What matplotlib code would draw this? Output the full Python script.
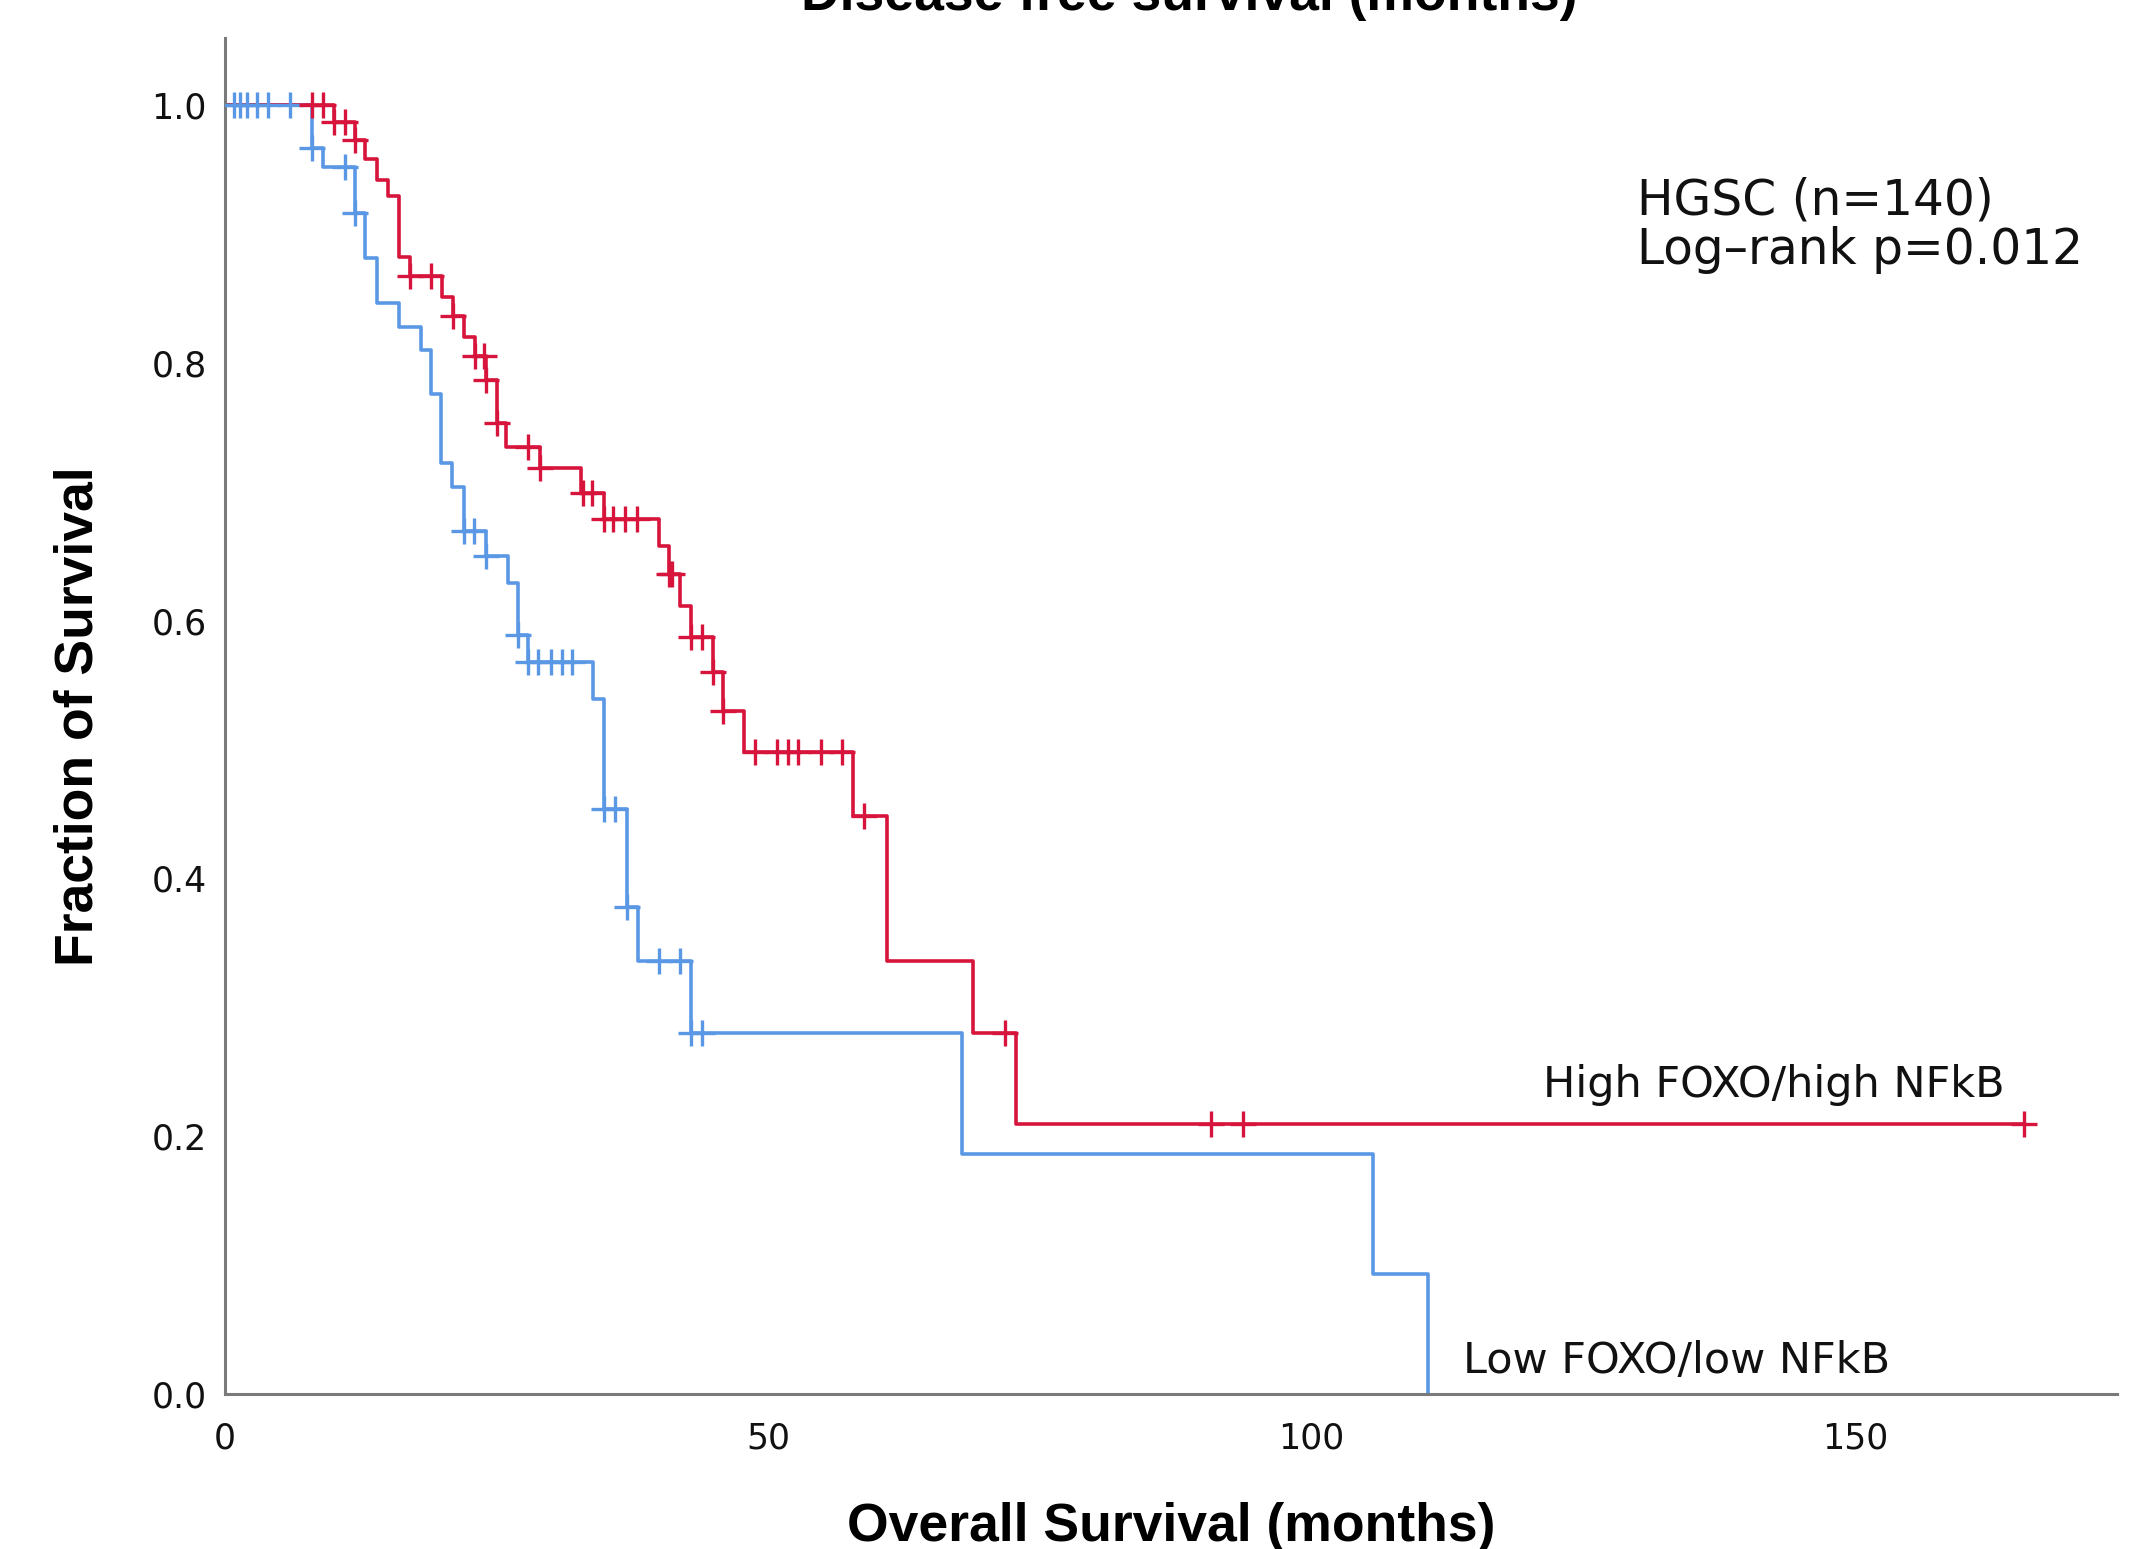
"""Kaplan-Meier style plot: disease free survival by FOXO/NFkB group (HGSC cohort)."""

import matplotlib

matplotlib.use("Agg")
import matplotlib.pyplot as plt
import numpy as np

# High FOXO / high NFkB group: event times (months) and survival after each event
HIGH_EVENT_TIMES = [10.0, 12.0, 12.9, 13.95, 15.0, 16.0, 17.0, 20.0, 21.0, 22.0,
                    23.0, 24.0, 25.0, 25.9, 29.0, 32.8, 34.9, 39.9, 40.9, 41.9,
                    42.9, 44.9, 45.8, 47.8, 57.8, 60.9, 68.8, 72.8]
HIGH_SURVIVAL = [0.987, 0.973, 0.958, 0.942, 0.929, 0.882, 0.867, 0.851, 0.836, 0.820,
                 0.805, 0.787, 0.753, 0.735, 0.718, 0.699, 0.679, 0.658, 0.636, 0.611,
                 0.5875, 0.560, 0.530, 0.498, 0.448, 0.336, 0.280, 0.2095]
HIGH_CENSORED = [8.0, 9.0, 10.0, 11.0, 12.0, 17.0, 19.0, 21.0, 23.0, 23.8, 24.0, 25.0,
                 27.9, 29.0, 32.9, 33.8, 34.9, 35.7, 36.8, 37.9, 40.9, 41.1, 42.9, 43.9,
                 44.9, 45.8, 48.8, 50.8, 51.8, 52.7, 54.8, 56.8, 58.8, 71.8, 90.7, 93.7,
                 165.5]

# Low FOXO / low NFkB group
LOW_EVENT_TIMES = [8.0, 9.05, 12.0, 12.9, 13.95, 16.0, 18.0, 18.95, 19.85, 20.9,
                   22.0, 24.0, 26.0, 26.95, 27.9, 33.9, 34.9, 36.95, 38.0, 42.9,
                   67.8, 105.6, 110.7]
LOW_SURVIVAL = [0.967, 0.952, 0.916, 0.881, 0.846, 0.828, 0.810, 0.776, 0.722, 0.704,
                0.6695, 0.650, 0.629, 0.589, 0.568, 0.539, 0.454, 0.378, 0.336, 0.280,
                0.186, 0.093, 0.0]
LOW_CENSORED = [0.8, 1.4, 2.0, 2.9, 4.0, 6.0, 8.0, 11.0, 12.0, 22.0, 22.9, 24.0, 27.0,
                27.9, 28.8, 30.0, 31.0, 31.9, 34.9, 35.9, 37.0, 39.9, 41.9, 42.9, 43.9]

X_TICKS = [0, 50, 100, 150]
Y_TICKS = [0.0, 0.2, 0.4, 0.6, 0.8, 1.0]

COLOR_HIGH = "#d7143c"
COLOR_LOW = "#5a98e6"
COLOR_SPINE = "#7a7a7a"

LABEL_FONT = ["Liberation Sans", "DejaVu Sans"]
TEXT_FONT = ["DejaVu Sans"]


def plot_curve(ax, event_times, survival, censored, color, end_time=None):
    times = np.array([0.0] + list(event_times))
    surv = np.array([1.0] + list(survival))
    if end_time is not None:
        times = np.append(times, end_time)
        surv = np.append(surv, surv[-1])
    ax.step(times, surv, where="post", color=color, linewidth=2.6, zorder=2)

    ev = np.array(event_times)
    full = np.array([1.0] + list(survival))
    cens = np.array(censored)
    cens_y = full[np.searchsorted(ev, cens, side="right")]
    ax.plot(cens, cens_y, linestyle="none", marker="+", markersize=19,
            markeredgewidth=2.4, color=color, zorder=3)


def main() -> None:
    fig = plt.figure(figsize=(21.39, 15.49), dpi=100)
    fig.patch.set_facecolor("white")
    ax = fig.add_axes([0.1052, 0.1001, 0.8845, 0.8754])

    plot_curve(ax, LOW_EVENT_TIMES, LOW_SURVIVAL, LOW_CENSORED, COLOR_LOW)
    plot_curve(ax, HIGH_EVENT_TIMES, HIGH_SURVIVAL, HIGH_CENSORED, COLOR_HIGH,
               end_time=max(HIGH_CENSORED))

    ax.set_xlim(0, 174.1)
    ax.set_ylim(0, 1.052)
    ax.set_xticks(X_TICKS)
    ax.set_yticks(Y_TICKS)
    ax.set_xticklabels([str(t) for t in X_TICKS])
    ax.set_yticklabels([f"{t:.1f}" for t in Y_TICKS])
    ax.tick_params(axis="both", length=0, labelsize=25, colors="#111111")
    ax.tick_params(axis="x", pad=19.5)
    ax.tick_params(axis="y", pad=13)
    for lab in ax.get_xticklabels() + ax.get_yticklabels():
        lab.set_family(TEXT_FONT)

    for side in ("top", "right"):
        ax.spines[side].set_visible(False)
    for side in ("left", "bottom"):
        ax.spines[side].set_color(COLOR_SPINE)
        ax.spines[side].set_linewidth(2.2)

    ax.set_xlabel("Overall Survival (months)", fontsize=38.5, fontweight="bold",
                  family=LABEL_FONT, va="baseline")
    ax.xaxis.set_label_coords(0.5, -0.1084)
    ax.set_ylabel("Fraction of Survival", fontsize=38.5, fontweight="bold",
                  family=LABEL_FONT, va="center")
    ax.yaxis.set_label_coords(-0.0777, 0.5)

    # the title sits mostly above the canvas in the source image, only its lower part shows
    fig.text(0.556, 0.9935, "Disease free survival (months)", fontsize=38.5,
             fontweight="bold", family=LABEL_FONT, ha="center", va="baseline")

    ax.text(129.9, 0.915, "HGSC (n=140)", fontsize=35, family=TEXT_FONT,
            va="baseline", ha="left", color="#111111")
    ax.text(129.9, 0.877, "Log\u2013rank p=0.012", fontsize=35, family=TEXT_FONT,
            va="baseline", ha="left", color="#111111")
    ax.text(121.25, 0.2304, "High FOXO/high NFkB", fontsize=31, family=TEXT_FONT,
            va="baseline", ha="left", color="#111111")
    ax.text(113.9, 0.0163, "Low FOXO/low NFkB", fontsize=31, family=TEXT_FONT,
            va="baseline", ha="left", color="#111111")

    fig.savefig("out.png", dpi=100)
    plt.close(fig)


if __name__ == "__main__":
    main()
